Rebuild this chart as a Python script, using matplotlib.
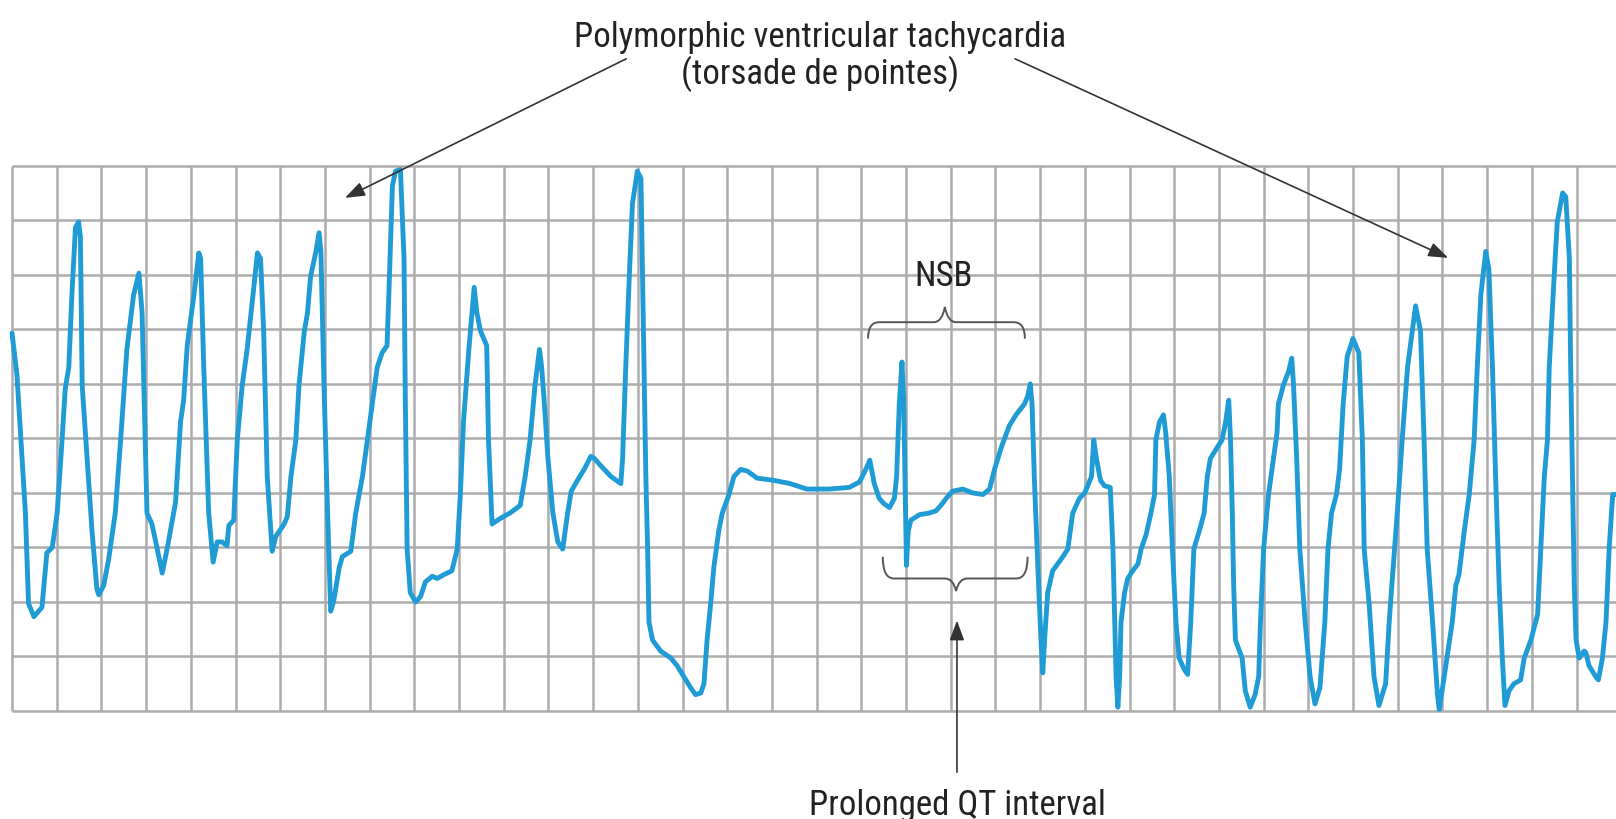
import matplotlib
matplotlib.use("Agg")
import matplotlib.pyplot as plt
from matplotlib.path import Path
from matplotlib.patches import PathPatch
import matplotlib.font_manager as fm

# ---------------- data (grid units: x = large-box columns, y = rows from bottom) -------------
trace_x = [
    0, 0.11, 0.30, 0.37, 0.49, 0.67, 0.78, 0.90, 1.01, 1.12, 1.19, 1.27, 1.34, 1.42, 1.49, 1.53,
    1.57, 1.68, 1.79, 1.90, 1.94, 2.05, 2.16, 2.31, 2.43, 2.57, 2.72, 2.84, 2.91, 3.02, 3.13, 3.25,
    3.36, 3.47, 3.66, 3.77, 3.84, 3.92, 4.07, 4.18, 4.22, 4.29, 4.40, 4.50, 4.59, 4.70, 4.81, 4.85,
    4.96, 5.04, 5.15, 5.26, 5.41, 5.49, 5.56, 5.63, 5.71, 5.82, 5.90,
    6.09, 6.16, 6.24, 6.35, 6.42, 6.54, 6.61, 6.68, 6.80, 6.87, 6.91, 6.98, 7.06, 7.13, 7.20, 7.32,
    7.39, 7.58, 7.69, 7.84, 7.95, 8.06, 8.17, 8.28, 8.39, 8.43, 8.51, 8.58, 8.69, 8.77, 8.80, 8.84,
    8.91, 9.03, 9.14, 9.25, 9.40, 9.51, 9.66, 9.84, 9.96, 10.03, 10.10, 10.22, 10.34, 10.40, 10.48,
    10.62, 10.66, 10.74, 10.92, 11.14, 11.37, 11.48, 11.59, 11.70, 11.80, 11.85,
    11.91, 11.99, 12.10, 12.21, 12.32, 12.43, 12.51, 12.65, 12.80, 12.95, 13.03, 13.17, 13.40, 13.62,
    13.66, 13.73, 13.81, 13.88, 13.99, 14.07, 14.10, 14.14, 14.18, 14.22, 14.25, 14.33, 14.51, 14.74,
    14.88, 15.03, 15.18, 15.29, 15.41, 15.48, 15.55, 15.63, 15.70, 15.81, 15.89, 16.04, 16.15, 16.30,
    16.45, 16.67, 17.04, 17.41, 17.78,
    18.28, 18.73, 18.96, 19.10, 19.19, 19.29, 19.40, 19.51, 19.63, 19.74, 19.79, 19.85, 19.91, 19.95,
    19.99, 20.01, 20.05, 20.11, 20.30, 20.52, 20.67, 20.78, 20.90, 21.04, 21.27, 21.49, 21.72, 21.87,
    21.98, 22.13, 22.31, 22.46, 22.65, 22.72, 22.78, 22.82, 22.87, 22.95, 23.02, 23.06, 23.10, 23.17,
    23.28, 23.51, 23.62, 23.73, 23.88,
    24.00, 24.15, 24.20, 24.26, 24.35, 24.44, 24.57, 24.63, 24.67, 24.70, 24.74, 24.78, 24.81, 24.89,
    24.96, 25.07, 25.19, 25.26, 25.37, 25.48, 25.56, 25.59, 25.67, 25.76, 25.81, 25.89, 25.96, 26.04,
    26.11, 26.22, 26.30, 26.37, 26.44, 26.56, 26.67, 26.74, 26.81, 26.96, 27.07, 27.15, 27.22, 27.26,
    27.30, 27.33, 27.37, 27.52, 27.59, 27.70, 27.81, 27.89, 27.93, 28.00, 28.11, 28.22, 28.30, 28.33,
    28.44, 28.56, 28.63, 28.67, 28.74, 28.81, 28.93, 29.04, 29.15, 29.26, 29.37, 29.44, 29.52, 29.63,
    29.70, 29.78, 29.87, 30.00,
    30.13, 30.21, 30.25, 30.36, 30.47, 30.58, 30.73, 30.81, 30.88, 30.99, 31.10, 31.22, 31.40, 31.51,
    31.59, 31.66, 31.78, 31.89, 31.93, 32.04, 32.22, 32.30, 32.37, 32.49, 32.60, 32.71, 32.78, 32.86,
    32.97, 33.04, 33.12, 33.19, 33.27, 33.34, 33.40, 33.49, 33.60, 33.75, 33.83, 33.98, 34.13, 34.20,
    34.28, 34.35, 34.39, 34.50, 34.57, 34.69, 34.76, 34.84, 34.87, 34.91, 34.95, 34.99, 35.06, 35.17,
    35.21, 35.28, 35.43, 35.49, 35.58, 35.66, 35.73, 35.81, 35.88,
]
trace_y = [
    6.93, 6.17, 3.63, 1.97, 1.73, 1.90, 2.90, 3.00, 3.63, 4.97, 5.90, 6.30, 7.63, 8.87, 8.97, 8.70,
    5.97, 4.63, 3.30, 2.23, 2.13, 2.30, 2.77, 3.63, 4.97, 6.63, 7.63, 8.03, 7.30, 3.63, 3.43, 2.97,
    2.53, 2.97, 3.83, 5.30, 5.70, 6.70, 7.63, 8.40, 8.30, 6.30, 3.63, 2.73, 3.10, 3.10, 3.03, 3.40,
    3.50, 4.97, 5.97, 6.63, 7.77, 8.40, 8.30, 6.97, 4.30, 2.93, 3.20,
    3.43, 3.57, 4.30, 4.97, 5.97, 6.97, 7.30, 7.97, 8.43, 8.77, 8.43, 5.97, 3.63, 1.83, 2.03, 2.63,
    2.83, 2.93, 3.63, 4.30, 4.97, 5.63, 6.30, 6.57, 6.70, 7.63, 9.63, 9.90, 9.93, 8.30, 5.63, 2.97,
    2.17, 2.00, 2.10, 2.37, 2.47, 2.43, 2.50, 2.57, 2.97, 3.97, 5.30, 6.63, 7.77, 7.30, 6.97,
    6.70, 4.97, 3.43, 3.53, 3.63, 3.77, 4.30, 4.97, 5.97, 6.63, 6.30,
    5.63, 4.63, 3.63, 3.10, 2.97, 3.63, 4.03, 4.23, 4.43, 4.67, 4.63, 4.50, 4.30, 4.17,
    4.63, 6.30, 7.97, 9.30, 9.90, 9.77, 8.30, 6.30, 4.30, 2.97, 1.63, 1.30, 1.10, 0.97,
    0.83, 0.63, 0.43, 0.30, 0.33, 0.50, 1.30, 1.97, 2.63, 3.30, 3.63, 3.97, 4.30, 4.43,
    4.40, 4.27, 4.23, 4.17, 4.07,
    4.07, 4.10, 4.20, 4.43, 4.60, 4.17, 3.90, 3.80, 3.73, 3.90, 4.30, 5.63, 6.40, 5.63,
    3.63, 2.67, 3.30, 3.50, 3.60, 3.63, 3.67, 3.77, 3.90, 4.03, 4.07, 4.00, 3.97, 4.07,
    4.43, 4.83, 5.23, 5.43, 5.63, 5.77, 6.00, 5.63, 4.30, 2.63, 1.30, 0.70, 1.30, 2.17,
    2.57, 2.83, 2.97, 3.63, 3.90,
    4.00, 4.30, 4.97, 4.63, 4.23, 4.13, 4.10, 2.97, 1.63, 0.63, 0.07, 0.63, 1.63, 2.17,
    2.43, 2.57, 2.70, 2.97, 3.23, 3.63, 3.97, 4.97, 5.30, 5.43, 5.10, 4.30, 2.97, 1.63,
    0.97, 0.77, 0.67, 1.63, 2.97, 3.30, 3.63, 4.30, 4.63, 4.83, 4.97, 5.30, 5.70, 4.97,
    3.63, 2.30, 1.30, 0.97, 0.37, 0.07, 0.30, 0.63, 1.63, 2.97, 3.97, 4.63, 5.10, 5.63,
    5.97, 6.23, 6.47, 5.97, 4.63, 2.97, 1.63, 0.63, 0.13, 0.43, 1.63, 2.97, 3.63, 3.97,
    4.43, 5.63, 6.50, 6.83,
    6.57, 4.97, 2.97, 1.97, 0.63, 0.10, 0.50, 1.63, 2.43, 3.63, 4.97, 6.30, 7.43, 6.97,
    4.97, 2.97, 1.63, 0.30, 0.03, 0.63, 1.63, 2.30, 2.50, 3.30, 3.97, 4.97, 6.30, 7.63,
    8.43, 8.10, 6.30, 4.30, 2.30, 0.97, 0.10, 0.37, 0.50, 0.57, 0.97, 1.30, 1.77, 2.97,
    4.30, 4.97, 6.30, 7.97, 8.97, 9.50, 9.43, 8.30, 6.30, 4.30, 2.30, 1.30, 0.97, 1.10,
    1.07, 0.83, 0.63, 0.57, 0.97, 1.63, 2.97, 3.97, 3.97,
]

title_lines = ["Polymorphic ventricular tachycardia", "(torsade de pointes)"]
nsb_label = "NSB"
qt_label = "Prolonged QT interval"

n_cols = 36          # vertical grid lines 0..35
n_rows = 10          # horizontal grid intervals

# ---------------- figure geometry -------------
W, H, DPI = 1616, 820, 100
fig = plt.figure(figsize=(W / DPI, H / DPI), dpi=DPI)
fig.patch.set_facecolor("white")

grid_left_px, grid_top_px, grid_bottom_px = 12, 166.7, 712
col_px = 44.7
x_max = (W - grid_left_px) / col_px
ax = fig.add_axes([grid_left_px / W, (H - grid_bottom_px) / H,
                   (W - grid_left_px) / W, (grid_bottom_px - grid_top_px) / H])
ax.set_xlim(0, x_max)
ax.set_ylim(0, n_rows)
ax.axis("off")

# fonts
names = {f.name for f in fm.fontManager.ttflist}
if "Liberation Sans Narrow" in names:
    FAM, FS = ["Liberation Sans Narrow", "DejaVu Sans"], 26.5
elif "Roboto Condensed" in names:
    FAM, FS = ["Roboto Condensed", "DejaVu Sans"], 25
else:
    FAM, FS = ["Liberation Sans", "DejaVu Sans"], 22
TXT = "#222222"

# grid
grid_c = "#acacac"
ax.vlines(range(n_cols), 0, n_rows, colors=grid_c, lw=1.8, clip_on=False, zorder=1)
ax.hlines(range(n_rows + 1), 0, x_max, colors=grid_c, lw=1.8, clip_on=False, zorder=1)

# ECG trace
ax.plot(trace_x, trace_y, color="#1f9bd5", lw=3.5, solid_joinstyle="round",
        solid_capstyle="round", clip_on=False, zorder=3)


def brace(x0, x1, xm, y_end, y_bar, y_tip, r=0.25, rt=0.25):
    verts = [(x0, y_end), (x0, y_bar), (x0 + r, y_bar),
             (xm - rt, y_bar), (xm - rt * 0.25, y_bar), (xm, y_tip),
             (xm + rt * 0.25, y_bar), (xm + rt, y_bar),
             (x1 - r, y_bar), (x1, y_bar), (x1, y_end)]
    codes = [Path.MOVETO, Path.CURVE3, Path.CURVE3,
             Path.LINETO, Path.CURVE3, Path.CURVE3,
             Path.CURVE3, Path.CURVE3,
             Path.LINETO, Path.CURVE3, Path.CURVE3]
    ax.add_patch(PathPatch(Path(verts, codes), fc="none", ec="#555555", lw=1.4,
                           clip_on=False, zorder=2))


brace(19.15, 22.66, 20.87, 6.83, 7.13, 7.41)
brace(19.48, 22.72, 21.12, 2.83, 2.43, 2.20)

# texts
ax.text(20.83, 7.82, nsb_label, ha="center", va="baseline", fontsize=FS, family=FAM,
        color=TXT, clip_on=False)
ax.text(18.08, 12.20, title_lines[0], ha="center", va="baseline", fontsize=FS,
        family=FAM, color=TXT, clip_on=False)
ax.text(18.08, 11.52, title_lines[1], ha="center", va="baseline", fontsize=FS,
        family=FAM, color=TXT, clip_on=False)
ax.text(21.16, -1.89, qt_label, ha="center", va="baseline", fontsize=FS, family=FAM,
        color=TXT, clip_on=False)

# arrows
aprops = dict(arrowstyle="-|>,head_length=0.6,head_width=0.22", color="#333333",
              lw=1.2, shrinkA=0, shrinkB=0, mutation_scale=20)
ax.annotate("", xy=(7.45, 9.41), xytext=(13.74, 11.96), arrowprops=aprops,
            annotation_clip=False)
ax.annotate("", xy=(32.13, 8.31), xytext=(22.44, 11.96), arrowprops=aprops,
            annotation_clip=False)
ax.annotate("", xy=(21.14, 1.66), xytext=(21.14, -1.12), arrowprops=aprops,
            annotation_clip=False)

fig.savefig("out.png", dpi=DPI, facecolor="white")
